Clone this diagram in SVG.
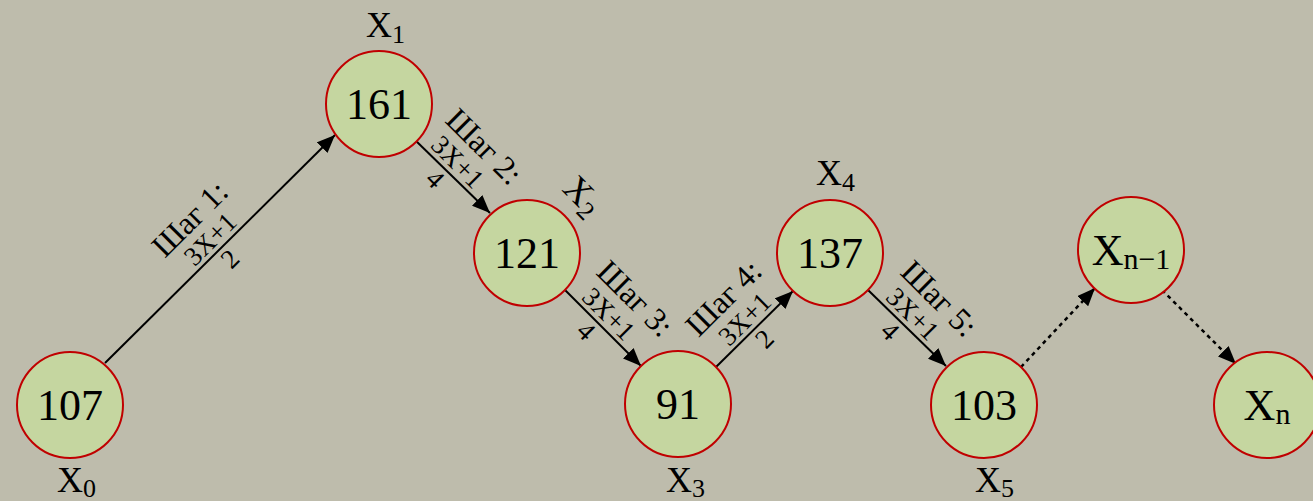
<svg xmlns="http://www.w3.org/2000/svg" width="1313" height="501" viewBox="0 0 1313 501">
<defs>
<marker id="ah" markerUnits="userSpaceOnUse" markerWidth="19" markerHeight="15" refX="18" refY="7.5" orient="auto"><path d="M0,0 L18,7.5 L0,15 z" fill="#000"/></marker>
<style>
.node circle{fill:#c5d6a0;stroke:#c00000;stroke-width:2}
.num{font-family:"Liberation Serif",serif;font-size:44px;fill:#000;text-anchor:middle}
.lab{font-family:"Liberation Serif",serif;font-size:36px;fill:#000}
.sub{font-size:26px}
.step{font-family:"Liberation Serif",serif;font-size:32px;fill:#000;text-anchor:middle}
.frac{font-family:"Liberation Serif",serif;font-size:27px;fill:#000;text-anchor:middle}
.edge{stroke:#000;stroke-width:2;fill:none;marker-end:url(#ah)}
.dot{stroke-dasharray:4 4;stroke-width:2.5}
</style>
</defs>
<rect width="1313" height="501" fill="#bebcac"/>
<g id="connectors">
<line class="edge" x1="105" y1="363" x2="335" y2="135"/>
<line class="edge" x1="414" y1="139" x2="490" y2="213"/>
<line class="edge" x1="565" y1="290" x2="641" y2="366"/>
<line class="edge" x1="716" y1="367" x2="793" y2="291"/>
<line class="edge" x1="868" y1="290" x2="946" y2="366"/>
<line class="edge dot" x1="1021" y1="367" x2="1095" y2="288"/>
<line class="edge dot" x1="1162" y1="290" x2="1236" y2="364"/>
</g>
<g id="edge-labels">
<g transform="translate(220,249) rotate(-45)"><text class="step" x="0" y="-32">Шаг 1:</text><text class="frac" x="0" y="-5">3X+1</text><text class="frac" x="0" y="23">2</text></g>
<g transform="translate(452,176) rotate(45)"><text class="step" x="2" y="-33">Шаг 2:</text><text class="frac" x="-6" y="-5">3X+1</text><text class="frac" x="-10" y="23">4</text></g>
<g transform="translate(603,328) rotate(45)"><text class="step" x="2" y="-33">Шаг 3:</text><text class="frac" x="-6" y="-5">3X+1</text><text class="frac" x="-10" y="23">4</text></g>
<g transform="translate(754.5,329) rotate(-45)"><text class="step" x="0" y="-33">Шаг 4:</text><text class="frac" x="0" y="-5">3X+1</text><text class="frac" x="0" y="23">2</text></g>
<g transform="translate(907,328) rotate(45)"><text class="step" x="2" y="-33">Шаг 5:</text><text class="frac" x="-6" y="-5">3X+1</text><text class="frac" x="-10" y="23">4</text></g>
</g>
<g id="n0" class="node"><circle cx="70" cy="405" r="53"/><text class="num" x="70" y="420">107</text><text class="lab" x="57" y="492">X<tspan class="sub" dy="5">0</tspan></text></g>
<g id="n1" class="node"><circle cx="379" cy="104" r="53"/><text class="num" x="379" y="119">161</text><text class="lab" x="366" y="37">X<tspan class="sub" dy="6">1</tspan></text></g>
<g id="n2" class="node"><circle cx="527" cy="253" r="53"/><text class="num" x="527" y="268">121</text><text class="lab" transform="translate(580,192) rotate(45)" x="-15" y="12">X<tspan class="sub" dy="6">2</tspan></text></g>
<g id="n3" class="node"><circle cx="678" cy="404" r="53"/><text class="num" x="678" y="419">91</text><text class="lab" x="666" y="492">X<tspan class="sub" dy="5">3</tspan></text></g>
<g id="n4" class="node"><circle cx="830" cy="253" r="53"/><text class="num" x="830" y="268">137</text><text class="lab" x="816" y="185">X<tspan class="sub" dy="6">4</tspan></text></g>
<g id="n5" class="node"><circle cx="984" cy="405" r="53"/><text class="num" x="984" y="420">103</text><text class="lab" x="975" y="492">X<tspan class="sub" dy="5">5</tspan></text></g>
<g id="nn1" class="node"><circle cx="1131" cy="250" r="53"/><text class="num" x="1131" y="265">X<tspan font-size="30" dy="4">n−1</tspan></text></g>
<g id="nn" class="node"><circle cx="1267" cy="405" r="53"/><text class="num" x="1267" y="420">X<tspan font-size="30" dy="4">n</tspan></text></g>
</svg>
